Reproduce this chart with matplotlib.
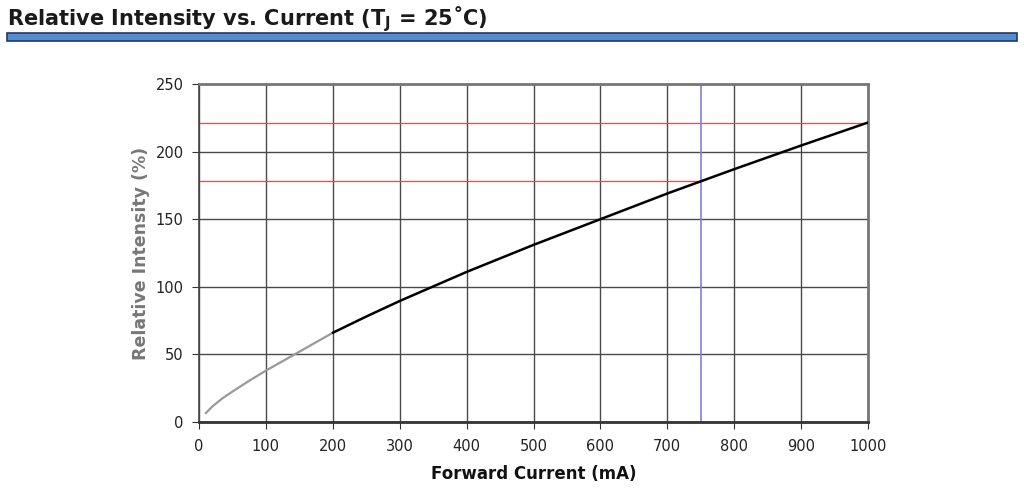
import matplotlib
matplotlib.use("Agg")
import matplotlib.pyplot as plt
from matplotlib.patches import Rectangle
import numpy as np

plt.rcParams["font.family"] = ["DejaVu Sans"]
plt.rcParams["mathtext.fontset"] = "dejavusans"

current_ma = [10, 20, 35, 50, 75, 100, 150, 200, 250, 300, 400, 500, 600, 700, 750, 800, 900, 1000]
intensity_pct = [6.5, 11.5, 17.5, 22.5, 30.5, 38, 52, 66, 78, 89.5, 111, 131, 150, 169, 178, 187, 204.5, 221.5]
x_ticks = [0, 100, 200, 300, 400, 500, 600, 700, 800, 900, 1000]
y_ticks = [0, 50, 100, 150, 200, 250]
ref_current = 750
ref_level = 178
max_level = 221.5

fig = plt.figure(figsize=(10.24, 4.97), dpi=100)
fig.patch.set_facecolor("white")

# Title and banner
fig.text(7/1024, 1 - 19/497, "Relative Intensity vs. Current (T$_\\mathregular{J}$ = 25˚C)",
         fontsize=15, fontweight="bold", color="#1a1a1a", ha="left", va="center")
fig.patches.append(Rectangle((7/1024, 1 - 41/497), 1010/1024, 8/497, transform=fig.transFigure,
                             facecolor="#5a8ad0", edgecolor="#1f3b66", linewidth=1.2))

ax = fig.add_axes([199/1024, 1 - 422/497, 669/1024, 338/497])
ax.set_xlim(0, 1000)
ax.set_ylim(0, 250)
ax.set_xticks(x_ticks)
ax.set_yticks(y_ticks)
ax.grid(True, color="#4a4a4a", linewidth=1.0)
ax.set_axisbelow(True)
for side in ["top", "right"]:
    ax.spines[side].set_color("#777777")
    ax.spines[side].set_linewidth(2)
ax.spines["left"].set_color("#444444")
ax.spines["left"].set_linewidth(1.2)
ax.spines["bottom"].set_color("#333333")
ax.spines["bottom"].set_linewidth(2)
ax.tick_params(axis="both", labelsize=10.5, length=5, color="#333333", labelcolor="#222222")
ax.tick_params(axis="x", pad=7)
ax.tick_params(axis="y", pad=6)

# Reference lines
ax.plot([0, 1000], [max_level, max_level], color="#e05050", linewidth=0.9, zorder=2)
ax.plot([0, ref_current], [ref_level, ref_level], color="#e05050", linewidth=0.9, zorder=2)
ax.axvline(ref_current, color="#7f7fe0", linewidth=1.2, zorder=2)

# Curve
cx = np.array(current_ma)
cy = np.array(intensity_pct)
low = cx <= 200
high = cx >= 200
ax.plot(cx[low], cy[low], color="#999999", linewidth=1.6, zorder=3, solid_capstyle="round")
ax.plot(cx[high], cy[high], color="black", linewidth=1.8, zorder=3, solid_capstyle="round")

ax.set_xlabel("Forward Current (mA)", fontsize=12, fontweight="bold", color="#111111", labelpad=8)
ax.set_ylabel("Relative Intensity (%)", fontsize=12.5, fontweight="bold", color="#777777", labelpad=4)

fig.savefig("out.png", dpi=100)
